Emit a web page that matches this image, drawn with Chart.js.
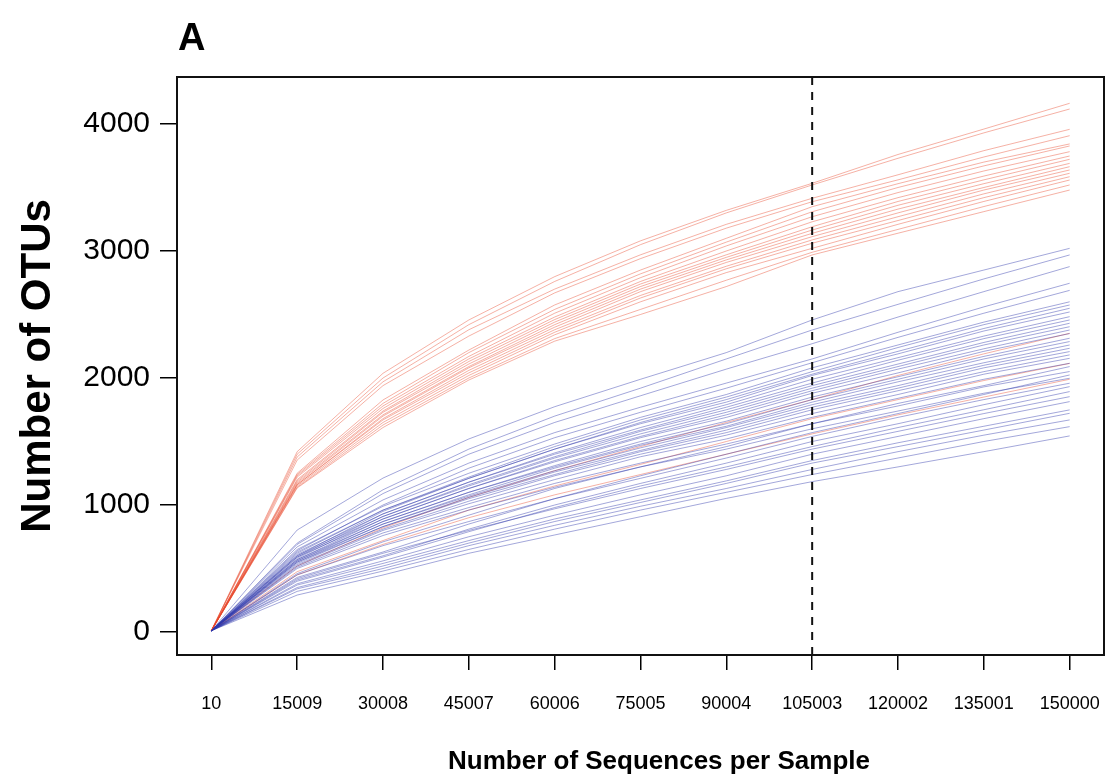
<!DOCTYPE html>
<html>
<head>
<meta charset="utf-8">
<title>Rarefaction curves</title>
<script src="https://cdn.jsdelivr.net/npm/chart.js@4.4.1/dist/chart.umd.min.js"></script>
<style>
  html, body { margin: 0; padding: 0; background: #fff; }
  #wrap { position: relative; width: 1106px; height: 784px; }
</style>
</head>
<body>
<div id="wrap"><canvas id="rarefaction"></canvas></div>
<script>
// ====== DATA ======
const depthLabels = ["10", "15009", "30008", "45007", "60006", "75005", "90004", "105003", "120002", "135001", "150000"];
const yTickValues = [0, 1000, 2000, 3000, 4000];
const cutoffDepth = "105003";
const panelLabel = "A";
const xTitle = "Number of Sequences per Sample";
const yTitle = "Number of OTUs";

// red samples, upper bundle
const redHighOTUs = [
  [10, 1420, 2037, 2457, 2798, 3080, 3320, 3533, 3760, 3960, 4163],
  [10, 1400, 2000, 2420, 2760, 3050, 3300, 3520, 3730, 3930, 4118],
  [10, 1378, 1970, 2380, 2700, 2970, 3210, 3415, 3600, 3790, 3958],
  [10, 1354, 1940, 2330, 2670, 2940, 3180, 3388, 3560, 3740, 3908]
];
const redMainOTUs = [
  [10, 1250, 1827, 2220, 2575, 2850, 3100, 3349, 3530, 3700, 3843],
  [10, 1240, 1800, 2200, 2540, 2820, 3070, 3309, 3500, 3670, 3827],
  [10, 1230, 1780, 2170, 2510, 2790, 3040, 3270, 3460, 3630, 3782],
  [10, 1220, 1760, 2150, 2480, 2760, 3000, 3230, 3420, 3590, 3748],
  [10, 1200, 1740, 2130, 2460, 2740, 2970, 3191, 3390, 3560, 3722],
  [10, 1190, 1730, 2110, 2440, 2720, 2950, 3165, 3360, 3530, 3690],
  [10, 1180, 1710, 2090, 2420, 2700, 2930, 3139, 3330, 3500, 3664],
  [10, 1170, 1700, 2080, 2400, 2680, 2910, 3113, 3300, 3480, 3638],
  [10, 1160, 1680, 2060, 2380, 2650, 2880, 3087, 3270, 3450, 3612],
  [10, 1160, 1670, 2040, 2360, 2630, 2860, 3061, 3240, 3420, 3585],
  [10, 1150, 1650, 2020, 2340, 2600, 2830, 3021, 3210, 3390, 3559],
  [10, 1140, 1630, 2000, 2310, 2540, 2770, 2990, 3170, 3350, 3520],
  [10, 1134, 1610, 1984, 2290, 2500, 2720, 2969, 3140, 3310, 3480]
];
// red samples sitting inside the blue bundle
const redLowOTUs = [
  [10, 520, 820, 1060, 1270, 1460, 1650, 1830, 2020, 2190, 2352],
  [10, 475, 720, 960, 1150, 1320, 1500, 1680, 1830, 1980, 2115],
  [10, 450, 690, 900, 1080, 1240, 1400, 1560, 1710, 1850, 1990]
];

// blue samples
const blueUpperOTUs = [
  [10, 803, 1212, 1520, 1774, 1990, 2200, 2457, 2680, 2850, 3021],
  [10, 700, 1120, 1440, 1700, 1920, 2150, 2378, 2580, 2780, 2969],
  [10, 690, 1090, 1400, 1650, 1860, 2070, 2270, 2480, 2680, 2877],
  [10, 670, 1040, 1330, 1570, 1770, 1960, 2150, 2360, 2560, 2746],
  [10, 640, 1000, 1290, 1530, 1730, 1920, 2120, 2320, 2510, 2690]
];
const blueMidOTUs = [
  [10, 650, 990, 1250, 1480, 1690, 1870, 2080, 2260, 2440, 2600],
  [10, 620, 960, 1220, 1460, 1670, 1850, 2050, 2240, 2420, 2575],
  [10, 600, 950, 1210, 1440, 1650, 1830, 2030, 2210, 2390, 2549],
  [10, 630, 960, 1210, 1440, 1640, 1810, 2020, 2190, 2370, 2520],
  [10, 590, 930, 1180, 1410, 1610, 1790, 1990, 2160, 2330, 2483],
  [10, 610, 930, 1180, 1400, 1590, 1770, 1960, 2140, 2310, 2457],
  [10, 580, 910, 1160, 1380, 1580, 1750, 1940, 2110, 2280, 2431],
  [10, 600, 910, 1150, 1370, 1560, 1730, 1920, 2090, 2260, 2404],
  [10, 570, 890, 1130, 1350, 1540, 1710, 1900, 2070, 2230, 2378],
  [10, 590, 890, 1130, 1340, 1530, 1690, 1880, 2040, 2210, 2350],
  [10, 560, 870, 1100, 1310, 1500, 1660, 1850, 2010, 2170, 2313],
  [10, 570, 870, 1100, 1300, 1480, 1640, 1830, 1990, 2150, 2287],
  [10, 550, 850, 1080, 1290, 1470, 1620, 1810, 1970, 2120, 2260],
  [10, 560, 850, 1070, 1270, 1450, 1610, 1790, 1940, 2100, 2234],
  [10, 540, 830, 1060, 1260, 1430, 1590, 1770, 1920, 2080, 2208],
  [10, 550, 830, 1050, 1240, 1420, 1570, 1750, 1900, 2050, 2182],
  [10, 530, 810, 1030, 1230, 1400, 1550, 1720, 1870, 2030, 2155],
  [10, 520, 800, 1010, 1200, 1380, 1520, 1690, 1840, 1990, 2116],
  [10, 460, 710, 920, 1130, 1300, 1460, 1640, 1800, 1940, 2090],
  [10, 510, 780, 980, 1170, 1330, 1480, 1640, 1780, 1930, 2051]
];
const blueLowerOTUs = [
  [10, 430, 630, 850, 1050, 1230, 1400, 1570, 1720, 1870, 2024],
  [10, 500, 760, 960, 1140, 1300, 1440, 1600, 1740, 1880, 1998],
  [10, 450, 680, 870, 1050, 1210, 1370, 1540, 1690, 1830, 1959],
  [10, 410, 600, 810, 1000, 1170, 1330, 1500, 1640, 1790, 1932],
  [10, 400, 590, 790, 980, 1150, 1300, 1460, 1610, 1750, 1893],
  [10, 420, 620, 800, 970, 1130, 1280, 1440, 1580, 1720, 1853],
  [10, 380, 560, 750, 920, 1080, 1230, 1400, 1540, 1680, 1814],
  [10, 370, 540, 720, 890, 1040, 1190, 1350, 1490, 1620, 1749],
  [10, 350, 520, 700, 870, 1020, 1170, 1330, 1460, 1590, 1722],
  [10, 340, 500, 680, 840, 990, 1130, 1280, 1420, 1550, 1670],
  [10, 320, 480, 650, 810, 960, 1100, 1240, 1370, 1500, 1617],
  [10, 291, 449, 620, 764, 908, 1052, 1184, 1300, 1420, 1544]
];

// ====== STYLE ======
const FONT = '"Liberation Sans", Arial, Helvetica, sans-serif';
const RED = "rgba(232, 70, 40, 0.42)";
const BLUE = "rgba(45, 55, 170, 0.44)";

function toDatasets(group, color) {
  return group.map((vals) => ({
    data: vals.map((v, i) => ({ x: i, y: v })),
    borderColor: color,
    borderWidth: 1,
    pointRadius: 0,
    fill: false,
    tension: 0,
  }));
}

const datasets = [
  ...toDatasets(blueUpperOTUs, BLUE),
  ...toDatasets(blueMidOTUs, BLUE),
  ...toDatasets(blueLowerOTUs, BLUE),
  ...toDatasets(redLowOTUs, RED),
  ...toDatasets(redHighOTUs, RED),
  ...toDatasets(redMainOTUs, RED),
];

// box, cutoff line and titles
const framePlugin = {
  id: "frame",
  afterDraw(chart) {
    const { ctx, chartArea: a, scales } = chart;
    ctx.save();
    const xc = scales.x.getPixelForValue(depthLabels.indexOf(cutoffDepth));
    ctx.strokeStyle = "#111";
    ctx.lineWidth = 2;
    ctx.setLineDash([8, 7]);
    ctx.beginPath();
    ctx.moveTo(xc, a.top);
    ctx.lineTo(xc, a.bottom);
    ctx.stroke();
    ctx.setLineDash([]);
    ctx.strokeRect(a.left, a.top, a.right - a.left, a.bottom - a.top);

    ctx.fillStyle = "#000";
    ctx.font = "bold 38px " + FONT;
    ctx.textAlign = "left";
    ctx.textBaseline = "alphabetic";
    ctx.fillText(panelLabel, 178, 50);

    ctx.font = "bold 26px " + FONT;
    ctx.textAlign = "center";
    ctx.textBaseline = "middle";
    ctx.fillText(xTitle, 659, 762);

    ctx.translate(38, 366);
    ctx.rotate(-Math.PI / 2);
    ctx.font = "bold 42px " + FONT;
    ctx.fillText(yTitle, 0, 0);
    ctx.restore();
  },
};

new Chart(document.getElementById("rarefaction"), {
  type: "line",
  data: { datasets },
  plugins: [framePlugin],
  options: {
    responsive: true,
    maintainAspectRatio: false,
    animation: false,
    layout: { padding: { top: 77, right: 2, left: 0, bottom: 0 } },
    plugins: { legend: { display: false }, tooltip: { enabled: false } },
    scales: {
      x: {
        type: "linear",
        min: -0.4,
        max: depthLabels.length - 1 + 0.4,
        afterFit: (scale) => {
          scale.height = 129;
          scale.paddingLeft = 0;
          scale.paddingRight = 0;
        },
        afterBuildTicks: (scale) => {
          scale.ticks = depthLabels.map((_, i) => ({ value: i }));
        },
        ticks: {
          autoSkip: false,
          maxRotation: 0,
          padding: 23,
          color: "#000",
          font: { family: FONT, size: 18 },
          callback: (v) => depthLabels[v],
        },
        grid: { drawOnChartArea: false, drawTicks: true, tickLength: 15, color: "#000", lineWidth: 1.5 },
        border: { display: false },
      },
      y: {
        min: -181,
        max: 4370,
        afterFit: (scale) => {
          scale.width = 177;
          scale.paddingTop = 0;
          scale.paddingBottom = 0;
        },
        afterBuildTicks: (scale) => {
          scale.ticks = yTickValues.map((v) => ({ value: v }));
        },
        ticks: {
          padding: 10,
          color: "#000",
          font: { family: FONT, size: 30 },
          callback: (v) => String(v),
        },
        grid: { drawOnChartArea: false, drawTicks: true, tickLength: 17, color: "#000", lineWidth: 1.5 },
        border: { display: false },
      },
    },
  },
});
</script>
</body>
</html>
